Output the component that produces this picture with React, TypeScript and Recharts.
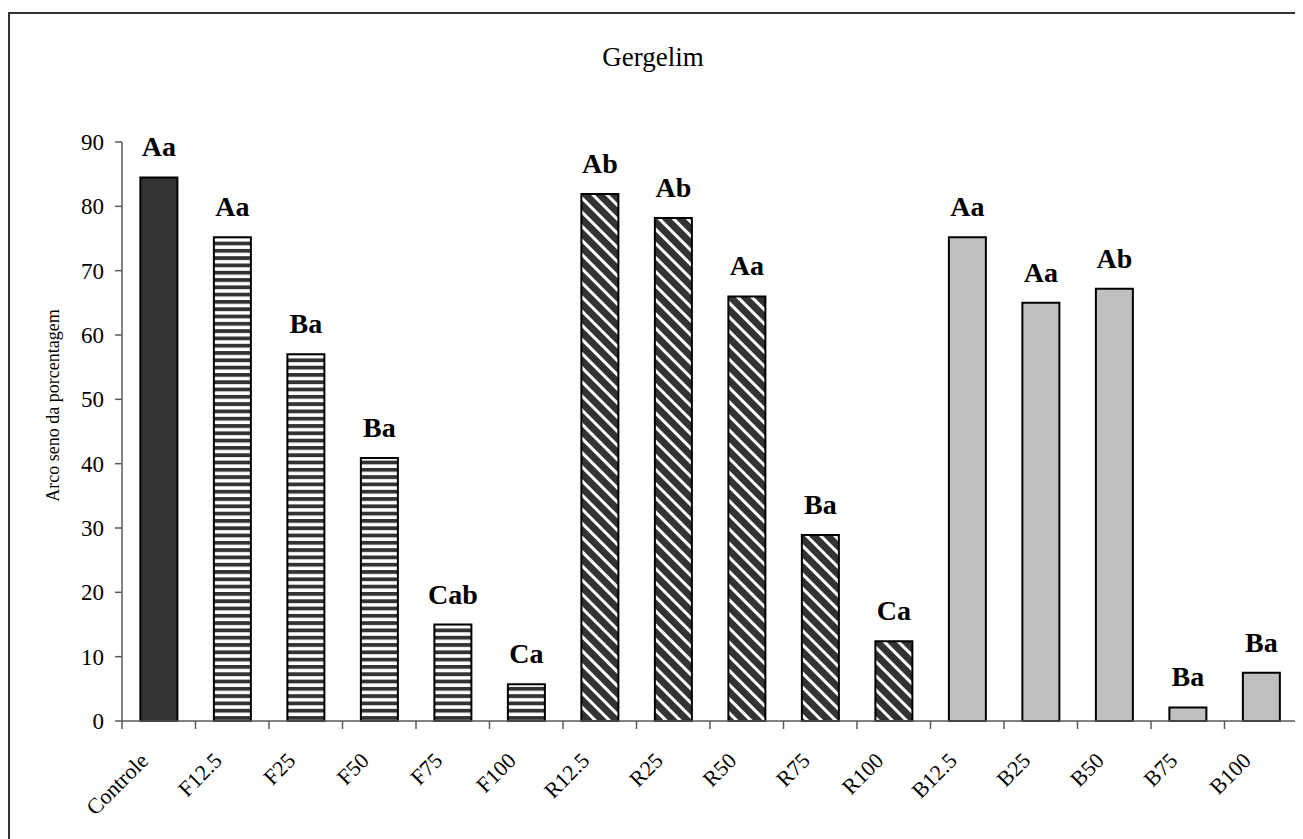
import React from "react";
import { BarChart, Bar, XAxis, YAxis, Cell, LabelList } from "recharts";

// treatments on the x axis
const categories = [
  "Controle", "F12.5", "F25", "F50", "F75", "F100",
  "R12.5", "R25", "R50", "R75", "R100",
  "B12.5", "B25", "B50", "B75", "B100",
];

// arcsine-transformed percentage per treatment
const values = [
  84.5, 75.2, 57.0, 40.9, 15.0, 5.7,
  81.9, 78.2, 66.0, 28.9, 12.4,
  75.2, 65.0, 67.2, 2.1, 7.5,
];

// significance letters printed above each bar
const letters = [
  "Aa", "Aa", "Ba", "Ba", "Cab", "Ca",
  "Ab", "Ab", "Aa", "Ba", "Ca",
  "Aa", "Aa", "Ab", "Ba", "Ba",
];

// group of each treatment (controls the fill)
const groups = [
  "C", "F", "F", "F", "F", "F",
  "R", "R", "R", "R", "R",
  "B", "B", "B", "B", "B",
];

const yTicks = [0, 10, 20, 30, 40, 50, 60, 70, 80, 90];

const fills: Record<string, string> = {
  C: "#333333",
  F: "url(#hstripe)",
  R: "url(#dstripe)",
  B: "#c0c0c0",
};

const data = categories.map((name, i) => ({
  name,
  value: values[i],
  letter: letters[i],
  group: groups[i],
}));

const serif = "'Liberation Serif', 'Times New Roman', serif";
const axisColor = "#5a5a5a";

const XTick = (props: any) => {
  const { x, y, payload, index } = props;
  const half = payload?.offset ?? 0;
  const axisY = y - 8;
  return (
    <g>
      <line x1={x - half} x2={x - half} y1={axisY} y2={axisY + 8} stroke={axisColor} strokeWidth={1.5} />
      {index === categories.length - 1 && (
        <line x1={x + half} x2={x + half} y1={axisY} y2={axisY + 8} stroke={axisColor} strokeWidth={1.5} />
      )}
      <text
        x={x - 9}
        y={axisY + 41}
        transform={`rotate(-45, ${x - 9}, ${axisY + 41})`}
        textAnchor="end"
        fontFamily={serif}
        fontSize={22}
        fill="#000"
      >
        {payload.value}
      </text>
    </g>
  );
};

const LetterLabel = (props: any) => {
  const { x, y, width, value } = props;
  return (
    <text
      x={x + width / 2}
      y={y - 21}
      textAnchor="middle"
      fontFamily={serif}
      fontWeight="bold"
      fontSize={28}
      fill="#000"
    >
      {value}
    </text>
  );
};

const YLabel = (props: any) => {
  const { viewBox } = props;
  const cx = viewBox.x + 51;
  const cy = viewBox.y + viewBox.height / 2 - 26;
  return (
    <text
      x={cx}
      y={cy}
      transform={`rotate(-90, ${cx}, ${cy})`}
      textAnchor="middle"
      fontFamily={serif}
      fontSize={18}
      fill="#000"
    >
      Arco seno da porcentagem
    </text>
  );
};

export default function App() {
  return (
    <div style={{ position: "relative", width: 1295, height: 831, overflow: "hidden", background: "#fff" }}>
      <div
        style={{
          position: "absolute",
          left: 0,
          top: 4,
          width: 1400,
          height: 900,
          border: "2px solid #333",
        }}
      />
      <div
        style={{
          position: "absolute",
          left: 545,
          top: 36,
          width: 200,
          textAlign: "center",
          fontFamily: serif,
          fontSize: 27,
          lineHeight: 1,
          color: "#000",
        }}
      >
        Gergelim
      </div>
      <div style={{ position: "absolute", left: 0, top: 0 }}>
        <BarChart
          width={1295}
          height={831}
          data={data}
          margin={{ top: 134, right: 5, bottom: 38, left: 0 }}
          barCategoryGap="25%"
        >
          <defs>
            <pattern id="hstripe" patternUnits="userSpaceOnUse" width={8} height={7.3}>
              <rect width={8} height={7.3} fill="#fff" />
              <rect width={8} height={3.8} fill="#333" />
            </pattern>
            <pattern
              id="dstripe"
              patternUnits="userSpaceOnUse"
              width={10}
              height={10}
              patternTransform="rotate(-45)"
            >
              <rect width={10} height={10} fill="#333" />
              <rect width={3} height={10} fill="#fff" />
            </pattern>
          </defs>
          <XAxis
            dataKey="name"
            height={80}
            interval={0}
            tickLine={false}
            tickSize={8}
            tickMargin={0}
            tick={<XTick />}
            axisLine={{ stroke: axisColor, strokeWidth: 1.5 }}
          />
          <YAxis
            width={114}
            domain={[0, 90]}
            ticks={yTicks}
            interval={0}
            tickSize={7}
            tickMargin={11}
            tick={{ fontFamily: serif, fontSize: 23, fill: "#000" }}
            tickLine={{ stroke: axisColor, strokeWidth: 1.5 }}
            axisLine={{ stroke: axisColor, strokeWidth: 1.5 }}
            label={<YLabel />}
          />
          <Bar dataKey="value" stroke="#000" strokeWidth={2} isAnimationActive={false}>
            {data.map((d, i) => (
              <Cell key={i} fill={fills[d.group]} />
            ))}
            <LabelList dataKey="letter" content={<LetterLabel />} />
          </Bar>
        </BarChart>
      </div>
    </div>
  );
}
